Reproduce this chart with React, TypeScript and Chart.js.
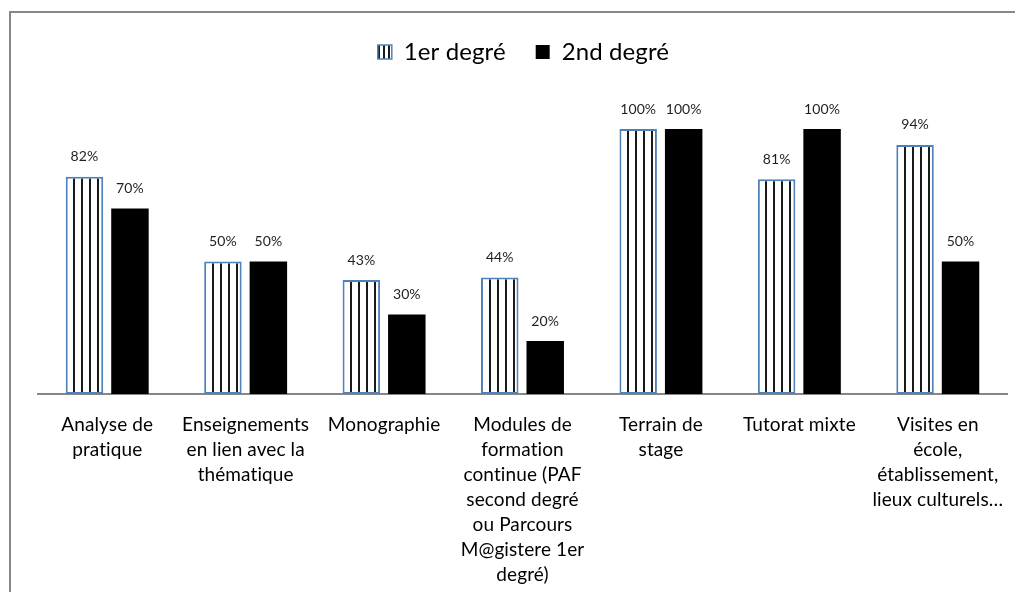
import React, { useEffect, useRef } from "react";
import { Chart, registerables } from "chart.js";

Chart.register(...registerables);

const categories: string[][] = [
  ["Analyse de", "pratique"],
  ["Enseignements", "en lien avec la", "thématique"],
  ["Monographie"],
  ["Modules de", "formation", "continue (PAF", "second degré", "ou Parcours", "M@gistere 1er", "degré)"],
  ["Terrain de", "stage"],
  ["Tutorat mixte"],
  ["Visites en", "école,", "établissement,", "lieux culturels…"],
];
const seriesNames = ["1er degré", "2nd degré"];
const firstDegree = [82, 50, 43, 44, 100, 81, 94];
const secondDegree = [70, 50, 30, 20, 100, 100, 50];

const CAT_PCT = 0.657;
const BAR_PCT = 0.824;
const FONT = "Lato, 'Open Sans', sans-serif";

function makePattern(ctx: CanvasRenderingContext2D, tileW: number, lineW: number, offsetX: number) {
  const tile = document.createElement("canvas");
  tile.width = tileW;
  tile.height = 8;
  const t = tile.getContext("2d")!;
  t.fillStyle = "#ffffff";
  t.fillRect(0, 0, tileW, 8);
  t.fillStyle = "#1a1a1a";
  t.fillRect(0, 0, lineW, 8);
  const p = ctx.createPattern(tile, "repeat")!;
  if (p && offsetX) p.setTransform(new DOMMatrix().translate(offsetX, 0));
  return p;
}

const noLigatures = {
  id: "noLigatures",
  beforeDraw(chart: any) {
    // a tiny letter spacing keeps the browser from using "ti" ligatures
    (chart.ctx as any).letterSpacing = "0.1px";
  },
};

const valueLabels = {
  id: "valueLabels",
  afterDatasetsDraw(chart: any) {
    const ctx = chart.ctx;
    ctx.save();
    ctx.font = `14px ${FONT}`;
    ctx.fillStyle = "#1f1f1f";
    ctx.textAlign = "center";
    ctx.textBaseline = "middle";
    chart.data.datasets.forEach((ds: any, di: number) => {
      chart.getDatasetMeta(di).data.forEach((el: any, i: number) => {
        ctx.fillText(`${ds.data[i]}%`, el.x, el.y - 20);
      });
    });
    ctx.restore();
  },
};

export default function App() {
  const ref = useRef<HTMLCanvasElement | null>(null);

  useEffect(() => {
    if (!ref.current) return;
    const chart = new Chart(ref.current, {
      type: "bar",
      data: {
        labels: categories,
        datasets: [
          {
            label: seriesNames[0],
            data: firstDegree,
            backgroundColor: (c: any) => {
              const ch = c.chart;
              const x = ch.scales?.x;
              if (c.type !== "data" || !x || !ch.chartArea) return makePattern(ch.ctx, 8, 2, 0);
              const catW = x.width / categories.length;
              const barW = (catW * CAT_PCT) / 2 * BAR_PCT;
              const center = x.getPixelForValue(c.dataIndex) - (catW * CAT_PCT) / 4;
              const left = center - barW / 2;
              return makePattern(ch.ctx, 8, 2, Math.round(left + 7.5));
            },
            borderColor: "#4f81bd",
            borderWidth: 2,
            borderSkipped: false,
            categoryPercentage: CAT_PCT,
            barPercentage: BAR_PCT,
          },
          {
            label: seriesNames[1],
            data: secondDegree,
            backgroundColor: "#000000",
            borderWidth: 0,
            categoryPercentage: CAT_PCT,
            barPercentage: BAR_PCT,
          },
        ],
      },
      options: {
        animation: false,
        responsive: false,
        devicePixelRatio: 1,
        layout: { padding: { top: 2, left: 30, right: 16, bottom: 0 } },
        plugins: {
          tooltip: { enabled: false },
          legend: {
            position: "top",
            align: "center",
            labels: {
              boxWidth: 14,
              boxHeight: 14,
              padding: 30,
              color: "#000",
              font: { family: FONT, size: 24 },
              generateLabels: (ch: any) =>
                seriesNames.map((name, i) => ({
                  text: name,
                  fillStyle: i === 0 ? makePattern(ch.ctx, 5, 2, 0) : "#000000",
                  strokeStyle: i === 0 ? "#4f81bd" : "#000000",
                  lineWidth: i === 0 ? 1.5 : 0,
                  hidden: false,
                  datasetIndex: i,
                  fontColor: "#000",
                })),
            },
          },
        },
        scales: {
          x: {
            z: 1,
            grid: { display: false, drawTicks: false },
            border: { display: true, color: "#868686", width: 2 },
            ticks: {
              autoSkip: false,
              maxRotation: 0,
              minRotation: 0,
              color: "#000",
              padding: 18,
              font: { family: FONT, size: 19, lineHeight: 25 / 19 },
            },
            afterFit: (s: any) => {
              s.height = 198;
            },
          },
          y: { display: false, min: 0, max: 120.75 },
        },
      },
      plugins: [noLigatures, valueLabels],
    } as any);
    return () => chart.destroy();
  }, []);

  return (
    <div style={{ position: "relative", width: 1015, height: 584, overflow: "hidden" }}>
      <div
        style={{
          position: "absolute",
          left: 1,
          top: 3,
          width: 2000,
          height: 2000,
          borderLeft: "2px solid #878787",
          borderTop: "2px solid #878787",
          boxSizing: "border-box",
        }}
      />
      <canvas ref={ref} width={1015} height={584} style={{ position: "absolute", left: 0, top: 0 }} />
    </div>
  );
}
